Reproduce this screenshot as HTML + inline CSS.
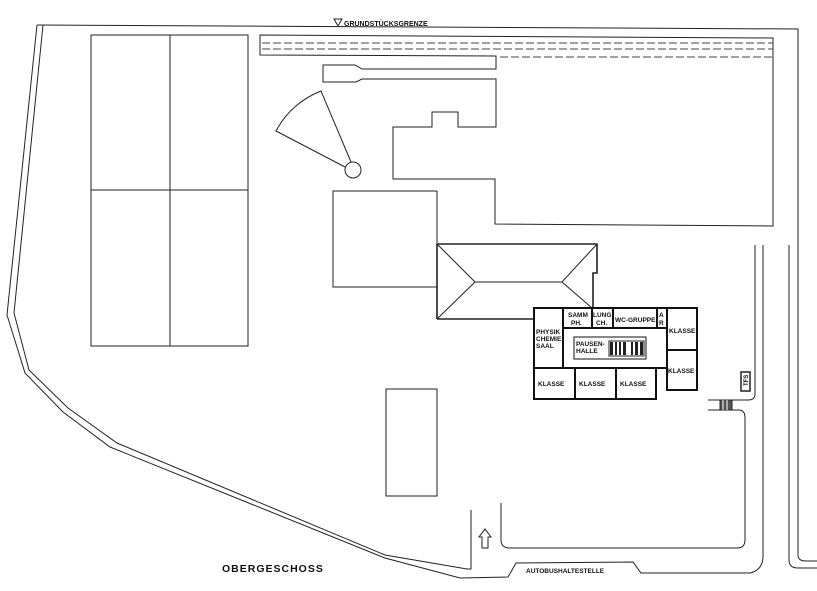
<!DOCTYPE html>
<html><head><meta charset="utf-8"><style>
html,body{margin:0;padding:0;background:#fff;width:817px;height:591px;overflow:hidden}
svg{display:block}
text{font-family:"Liberation Sans",sans-serif;font-weight:bold;fill:#111}
</style></head><body>
<svg width="817" height="591" viewBox="0 0 817 591" xmlns="http://www.w3.org/2000/svg">
<g fill="none" stroke="#222" stroke-width="1">
<path d="M37,25 L798,29 L798,555 Q798,561 806,561 L817,561"/>
<path d="M789,245 L789,560 Q789,568 798,568 L817,568"/>
<path d="M43,25 L14,313 L29,370 L68,408 L117,443 L385,555 L467,569 L471,569 L471,510"/>
<path d="M37,25 L7,315 L25,373 L63,412 L110,447 L385,558 L460,578 L508,577 L516,563 L633,562 L641,573 L750,573 Q763,570 763,556 L763,245"/>
<path d="M755,245 L755,394 Q755,400 748,400 L708,400"/>
<path d="M708,410 L739,410 Q745,410 745,418 L745,540 Q745,548 737,548 L510,548 Q501,548 501,540 L501,503"/>
<rect x="720" y="400" width="12" height="10" fill="#555" stroke="#222"/>
<line x1="723" y1="400" x2="723" y2="410" stroke="#fff"/><line x1="727" y1="400" x2="727" y2="410" stroke="#fff"/>
<rect x="741" y="372" width="9" height="19" stroke-width="1.5"/>
<rect x="91" y="35" width="157" height="311"/>
<line x1="170" y1="35" x2="170" y2="346"/>
<line x1="91" y1="190" x2="248" y2="190"/>
<path d="M260,35 L773,38 L773,226 L495,224 L495,179 L393,179 L393,127 L432,127 L432,112 L458,112 L458,127 L496,127 L496,79 L362,79 L356,82 L323,82 L323,65 L355,65 L362,69 L496,69 L496,56 L260,55 Z"/>
<g stroke-dasharray="8,3" stroke="#444">
<line x1="262" y1="43" x2="773" y2="43"/>
<line x1="262" y1="49" x2="773" y2="49"/>
<line x1="500" y1="57" x2="773" y2="57"/>
</g>
<path d="M351,162 L321,91 A86,86 0 0 0 276,131 L345,167"/>
<circle cx="353" cy="170" r="8" fill="#fff"/>
<rect x="333" y="191" width="104" height="96"/>
<rect x="386" y="389" width="51" height="107"/>
<path d="M437,244 L597,244 L597,273 L593,273 L593,308 M534,319 L437,319 Z" stroke-width="1.6"/>
<line x1="437" y1="244" x2="437" y2="319" stroke-width="1.6"/>
<path d="M437,244 L475,282 L562,282 L597,244 M437,319 L475,282 M562,282 L592,308"/>
<path d="M482,548 L482,537 L479,537 L485,529 L491,537 L488,537 L488,548 Z"/>
</g>
<g fill="none" stroke="#111" stroke-width="2">
<rect x="534" y="308" width="133" height="60"/>
<line x1="563" y1="308" x2="563" y2="368"/>
<line x1="563" y1="328" x2="667" y2="328"/>
<line x1="592" y1="308" x2="592" y2="328"/>
<line x1="613" y1="308" x2="613" y2="328"/>
<line x1="657" y1="308" x2="657" y2="328"/>
<rect x="667" y="308" width="30" height="82"/>
<line x1="667" y1="350" x2="697" y2="350"/>
<rect x="534" y="368" width="122" height="31"/>
<line x1="575" y1="368" x2="575" y2="399"/>
<line x1="616" y1="368" x2="616" y2="399"/>
</g>
<rect x="574" y="337" width="72" height="22" fill="none" stroke="#111" stroke-width="1"/>
<g fill="#222">
<rect x="610" y="342" width="3" height="13"/><rect x="615" y="342" width="2" height="13"/><rect x="619" y="342" width="2" height="13"/><rect x="623" y="342" width="3" height="13"/><rect x="631" y="342" width="2" height="13"/><rect x="635" y="342" width="3" height="13"/><rect x="640" y="342" width="3" height="13"/>
</g>
<rect x="609" y="341" width="35" height="15" fill="none" stroke="#222"/>
<g font-size="6.5">
<text x="568" y="317">SAMM</text><text x="593" y="317">LUNG</text>
<text x="571" y="325">PH.</text><text x="596" y="325">CH.</text>
<text x="615" y="322">WC-GRUPPE</text>
<text x="659" y="317">A</text><text x="659" y="325">R</text>
<text x="669" y="333">KLASSE</text>
<text x="668" y="373">KLASSE</text>
<text x="536" y="334">PHYSIK</text><text x="536" y="341">CHEMIE</text><text x="536" y="348">SAAL</text>
<text x="576" y="346">PAUSEN-</text><text x="576" y="353">HALLE</text>
<text x="538" y="386">KLASSE</text><text x="579" y="386">KLASSE</text><text x="620" y="386">KLASSE</text>
<text x="0" y="0" transform="translate(748,386) rotate(-90)" font-size="6">TFS</text>
</g>
<text x="344" y="26" font-size="7" font-weight="normal">GRUNDSTÜCKSGRENZE</text>
<path d="M334,19 L342,19 L338,26 Z" fill="none" stroke="#222"/>
<text x="222" y="572" font-size="10.5" font-weight="normal" letter-spacing="1">OBERGESCHOSS</text>
<text x="526" y="573" font-size="6.5">AUTOBUSHALTESTELLE</text>
</svg>
</body></html>
